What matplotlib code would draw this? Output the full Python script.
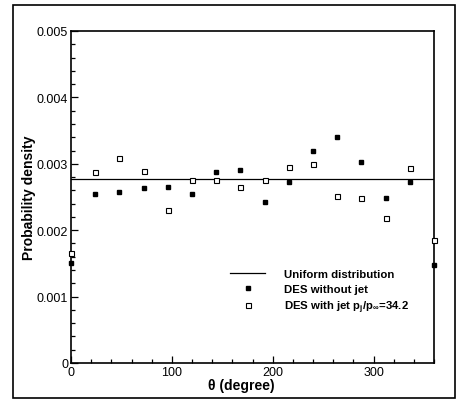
import matplotlib
matplotlib.use("Agg")
import matplotlib.pyplot as plt
from matplotlib.patches import Rectangle
from matplotlib.ticker import MultipleLocator, FixedLocator
import numpy as np

plt.rcParams['font.family'] = ['Liberation Sans', 'DejaVu Sans']
plt.rcParams['mathtext.fontset'] = 'custom'
plt.rcParams['mathtext.rm'] = 'Liberation Sans'
plt.rcParams['mathtext.bf'] = 'Liberation Sans:bold'

theta = [0, 24, 48, 72, 96, 120, 144, 168, 192, 216, 240, 264, 288, 312, 336, 360]
des_without_jet = [0.00150, 0.00255, 0.00258, 0.00264, 0.00265, 0.00254, 0.00288, 0.00290,
                   0.00243, 0.00272, 0.00319, 0.00341, 0.00302, 0.00248, 0.00272, 0.00148]
des_with_jet = [0.00166, 0.00287, 0.00309, 0.00289, 0.00231, 0.00275, 0.00276, 0.00265,
                0.00276, 0.00295, 0.00299, 0.00252, 0.00248, 0.00219, 0.00294, 0.00185]
uniform_x = [0, 360]
uniform_y = [1/360, 1/360]

x_ticks = [0, 100, 200, 300]
y_ticks = [0, 0.001, 0.002, 0.003, 0.004, 0.005]
y_ticklabels = ["0", "0.001", "0.002", "0.003", "0.004", "0.005"]

fig = plt.figure(figsize=(4.6, 4.1), dpi=100)
ax = fig.add_axes([71/460, 46/410, 363/460, 332/410])

# outer frame
fig.patches.append(Rectangle((13/460, 11/410), 442/460, 393/410, transform=fig.transFigure,
                             fill=False, edgecolor='black', linewidth=1.2))

ax.plot(uniform_x, uniform_y, color='black', linewidth=0.9, label='Uniform distribution')
ax.plot(theta, des_without_jet, linestyle='none', marker='s', markersize=3.4,
        markerfacecolor='black', markeredgecolor='black', label='DES without jet',
        clip_on=False, zorder=3)
ax.plot(theta, des_with_jet, linestyle='none', marker='s', markersize=3.6,
        markerfacecolor='white', markeredgecolor='black', markeredgewidth=0.8,
        label=r'DES with jet p$_\mathbf{j}$/p$_\mathbf{\infty}$=34.2', clip_on=False, zorder=3)

ax.set_xlim(0, 360)
ax.set_ylim(0, 0.005)
ax.xaxis.set_major_locator(FixedLocator(x_ticks))
ax.xaxis.set_minor_locator(MultipleLocator(20))
ax.yaxis.set_major_locator(FixedLocator(y_ticks))
ax.set_yticklabels(y_ticklabels)
ax.yaxis.set_minor_locator(MultipleLocator(0.0002))
ax.tick_params(which='both', direction='in', top=False, right=False, labelsize=9, width=0.9)
ax.tick_params(which='major', length=5)
ax.tick_params(which='minor', length=3)
ax.tick_params(axis='x', pad=2)
ax.tick_params(axis='y', pad=2)
for s in ax.spines.values():
    s.set_linewidth(1.2)

ax.set_xlabel('θ (degree)', fontsize=10, fontweight='bold')
ax.xaxis.set_label_coords(0.47, -0.045, transform=ax.transAxes)
ax.set_ylabel('Probability density', fontsize=10, fontweight='bold')
ax.yaxis.set_label_coords(-0.096, 0.5, transform=ax.transAxes)

leg = ax.legend(loc='upper left', bbox_to_anchor=(230/460, (410-270)/410),
                bbox_transform=fig.transFigure, frameon=False, borderpad=0, borderaxespad=0,
                handlelength=3.1, handletextpad=1.6, labelspacing=0.42,
                prop={'weight': 'bold', 'size': 8.2})

fig.savefig('out.png', dpi=100)
